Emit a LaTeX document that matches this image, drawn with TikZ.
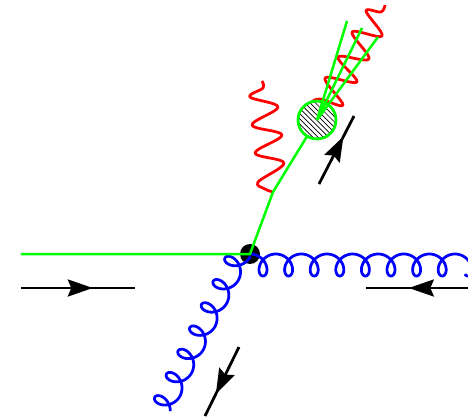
\documentclass[tikz,border=0pt]{standalone}
\usetikzlibrary{arrows.meta,decorations.markings,patterns,positioning}
\tikzset{
  fermion/.style={draw=green,line width=0.05cm},
  gluon/.style={draw=blue,line width=0.055cm,samples=500,smooth},
  photon/.style={draw=red,line width=0.055cm,line join=round},
  momentum/.style={draw=black,line width=0.055cm,postaction={decorate},
    decoration={markings,mark=at position #1 with {\arrow{Stealth[length=0.5cm,width=0.34cm,inset=0.07cm]}}}},
}
\begin{document}
\begin{tikzpicture}[x=0.02cm,y=-0.02cm]
  \useasboundingbox (0,0) rectangle (468,420);
  \clip (0,0) rectangle (468,420);
  \coordinate (in) at (21,254);
  \coordinate (vertex) at (250,254);
  \coordinate (kink) at (273,192);
  \coordinate (blob) at (317,120);
  \coordinate (jeta) at (347,21);
  \coordinate (jetb) at (362,28);
  \coordinate (jetc) at (378,37);
  \node[circle,fill=black,inner sep=0pt,minimum size=0.4cm] (dot) at (vertex) {};
  % gluons
  \draw[gluon,domain=0:54] plot ({250.2+25.6*\x/(2*pi)+9.5*sin(\x r)},{254+11*(1-cos(\x r))});
  \draw[gluon,domain=0:43.4] plot ({250.4-0.45*(26*\x/(2*pi)+9.5*sin(\x r))-0.893*11*(1-cos(\x r))},
    {256.3+0.893*(26*\x/(2*pi)+9.5*sin(\x r))-0.45*11*(1-cos(\x r))});
  % photons
  \draw[photon] plot[smooth,tension=0.6] coordinates {(273,192) (265,189) (258,182) (284,163) (255,153) (282,135) (252,125) (278,107) (250,97) (263,88) (262,81)};
  \draw[photon] plot[smooth,tension=0.6] coordinates {(312,102) (320,99) (343,105) (325,78) (357,82) (338,57) (369,59) (352,32) (382,36) (366,11) (381,12) (385,5)};
  % quark lines
  \draw[fermion] (in) -- (vertex) -- (kink) -- (blob);
  \node[circle,draw=green,line width=0.05cm,fill=white,inner sep=0pt,minimum size=0.76cm] (blobfill) at (blob) {};
  \node[circle,draw=green,line width=0.05cm,pattern=north west lines,inner sep=0pt,minimum size=0.76cm] (blobnode) at (blob) {};
  \draw[fermion] (blob) -- (jeta);
  \draw[fermion] (blob) -- (jetb);
  \draw[fermion] (blob) -- (jetc);
  % momentum arrows
  \coordinate (pa) at (21,288);
  \coordinate (pb) at (135,288);
  \coordinate (pc) at (468,288);
  \coordinate (pd) at (366,288);
  \coordinate (pe) at (239,347);
  \coordinate (pf) at (205,416);
  \coordinate (pg) at (319,184);
  \coordinate (ph) at (354,116);
  \draw[momentum=0.63] (pa) -- (pb);
  \draw[momentum=0.58] (pc) -- (pd);
  \draw[momentum=0.68] (pe) -- (pf);
  \draw[momentum=0.70] (pg) -- (ph);
\end{tikzpicture}
\end{document}
